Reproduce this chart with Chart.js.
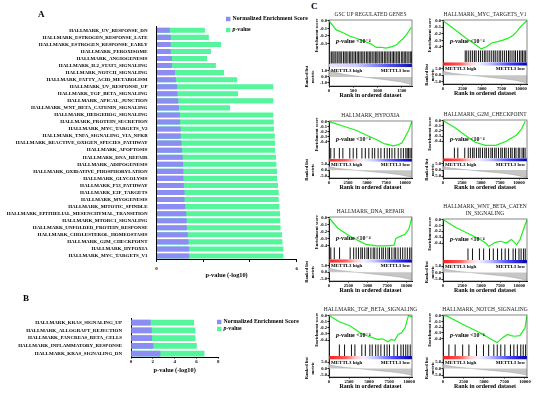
<!DOCTYPE html>
<html lang="en">
<head>
<meta charset="UTF-8">
<title>Hallmark GSEA – METTL3</title>
<script src="https://cdn.jsdelivr.net/npm/chart.js@4.4.1/dist/chart.umd.min.js"></script>
<style>
  body { margin: 0; background: #fff; }
  #wrap { position: relative; width: 550px; height: 397px; overflow: hidden; font-family: 'Liberation Serif', serif; }
  canvas { position: absolute; }
  .panel { position: absolute; font-weight: bold; font-size: 9px; line-height: 9px; }
</style>
</head>
<body>
<div id="wrap">
  <canvas id="chartA" width="310" height="285" style="left:0;top:0"></canvas>
  <canvas id="chartB" width="300" height="80" style="left:0;top:300px"></canvas>
  <div class="panel" style="left:38px;top:10px">A</div>
  <div class="panel" style="left:23px;top:294px">B</div>
  <div class="panel" style="left:311px;top:2px">C</div>
</div>
<script>
// ---- panel A ----
const hallmarkA = [
  'HALLMARK_UV_RESPONSE_DN', 'HALLMARK_ESTROGEN_RESPONSE_LATE', 'HALLMARK_ESTROGEN_RESPONSE_EARLY',
  'HALLMARK_PEROXISOME', 'HALLMARK_ANGIOGENESIS', 'HALLMARK_IL2_STAT5_SIGNALING',
  'HALLMARK_NOTCH_SIGNALING', 'HALLMARK_FATTY_ACID_METABOLISM', 'HALLMARK_UV_RESPONSE_UP',
  'HALLMARK_TGF_BETA_SIGNALING', 'HALLMARK_APICAL_JUNCTION', 'HALLMARK_WNT_BETA_CATENIN_SIGNALING',
  'HALLMARK_HEDGEHOG_SIGNALING', 'HALLMARK_PROTEIN_SECRETION', 'HALLMARK_MYC_TARGETS_V2',
  'HALLMARK_TNFA_SIGNALING_VIA_NFKB', 'HALLMARK_REACTIVE_OXIGEN_SPECIES_PATHWAY', 'HALLMARK_APOPTOSIS',
  'HALLMARK_DNA_REPAIR', 'HALLMARK_ADIPOGENESIS', 'HALLMARK_OXIDATIVE_PHOSPHORYLATION',
  'HALLMARK_GLYCOLYSIS', 'HALLMARK_P53_PATHWAY', 'HALLMARK_E2F_TARGETS',
  'HALLMARK_MYOGENESIS', 'HALLMARK_MITOTIC_SPINDLE', 'HALLMARK_EPITHELIAL_MESENCHYMAL_TRANSITION',
  'HALLMARK_MTORC1_SIGNALING', 'HALLMARK_UNFOLDED_PROTEIN_RESPONSE', 'HALLMARK_CHOLESTEROL_HOMEOSTASIS',
  'HALLMARK_G2M_CHECKPOINT', 'HALLMARK_HYPOXIA', 'HALLMARK_MYC_TARGETS_V1'
];
const nesA = [0.57, 0.61, 0.61, 0.61, 0.66, 0.66, 0.79, 0.83, 0.88, 0.9, 0.93, 0.96, 1.0, 1.01, 1.03, 1.04, 1.07,
  1.09, 1.12, 1.14, 1.15, 1.15, 1.17, 1.2, 1.2, 1.23, 1.27, 1.29, 1.3, 1.34, 1.37, 1.4, 1.4];
const pvalA = [2.07, 2.24, 2.76, 2.33, 2.16, 2.54, 2.89, 3.45, 5.0, 3.49, 5.0, 3.15, 5.0, 5.02, 5.03, 5.06, 5.07,
  5.07, 5.11, 5.13, 5.16, 5.16, 5.2, 5.23, 5.23, 5.26, 5.29, 5.3, 5.31, 5.37, 5.39, 5.43, 5.43];

// ---- panel B ----
const hallmarkB = ['HALLMARK_KRAS_SIGNALING_UP', 'HALLMARK_ALLOGRAFT_REJECTION', 'HALLMARK_PANCREAS_BETA_CELLS',
  'HALLMARK_INFLAMMATORY_RESPONSE', 'HALLMARK_KRAS_SIGNALING_DN'];
const nesB = [1.8, 1.9, 1.93, 2.05, 2.69];
const pvalB = [5.78, 5.9, 5.9, 6.03, 6.73];

// ---- panel C: running enrichment scores [rank, ES] ----
const gscEs = [[0, 0], [150, -0.12], [300, -0.16], [425, -0.2], [600, -0.24], [767, -0.28], [880, -0.31], [973, -0.35],
  [1080, -0.35], [1178, -0.36], [1300, -0.34], [1384, -0.32], [1450, -0.28], [1520, -0.24], [1600, -0.18], [1692, -0.09]];
const mycV1Es = [[0, 0], [1000, -0.09], [2000, -0.18], [3000, -0.27], [4000, -0.35], [4900, -0.43], [5500, -0.4],
  [6240, -0.34], [7000, -0.32], [7600, -0.3], [8300, -0.27], [8960, -0.225], [9400, -0.175], [9900, -0.1], [10300, -0.05], [10770, 0]];
const hypoxiaEs = [[0, 0], [1818, -0.09], [3636, -0.18], [5000, -0.28], [6360, -0.37], [7300, -0.45], [7730, -0.46],
  [8400, -0.49], [9000, -0.47], [9545, -0.43], [10000, -0.31], [10450, -0.18], [10900, 0]];
const g2mEs = [[0, 0], [1500, -0.13], [2860, -0.28], [4230, -0.42], [5590, -0.48], [6950, -0.48], [8320, -0.4],
  [9000, -0.34], [9680, -0.28], [10360, -0.16], [10820, -0.01]];
const dnaRepairEs = [[0, 0], [1140, -0.15], [2500, -0.25], [3860, -0.33], [4770, -0.38], [6140, -0.4], [7500, -0.4],
  [8400, -0.39], [8600, -0.3], [8860, -0.28], [9770, -0.24], [10300, -0.16], [10680, 0]];
const wntEs = [[0, 0], [1680, -0.135], [3500, -0.25], [4860, -0.34], [5600, -0.4], [6000, -0.46], [6680, -0.4],
  [7140, -0.38], [7590, -0.37], [8270, -0.4], [8950, -0.34], [9300, -0.38], [9640, -0.43], [10090, -0.34], [10550, -0.165], [11000, 0]];
const tgfEs = [[0, 0], [1290, -0.1], [2590, -0.165], [3880, -0.28], [4740, -0.33], [6030, -0.39], [6700, -0.38],
  [7330, -0.43], [7760, -0.39], [8190, -0.41], [8620, -0.31], [9050, -0.28], [9480, -0.2], [9910, 0], [10340, -0.02]];
const notchEs = [[0, 0], [500, -0.01], [2400, -0.15], [4520, -0.3], [6200, -0.44], [6620, -0.47], [7300, -0.38],
  [7890, -0.33], [8300, -0.35], [8730, -0.36], [9370, -0.35], [10000, -0.22], [10250, 0]];

// gene-set hit positions in the ranked list
const gscHits = [15, 48, 80, 105, 140, 170, 205, 230, 262, 300, 330, 355, 390, 425, 450, 480, 515, 545, 580, 610, 640,
  675, 700, 735, 770, 800, 830, 860, 890, 925, 955, 985, 1010, 1045, 1075, 1105, 1140, 1170, 1200, 1235, 1265, 1300,
  1330, 1360, 1395, 1425, 1450, 1490, 1520, 1550, 1580, 1610, 1645, 1675, 1700];
const mycV1Hits = [2850, 3050, 3300, 3550, 3800, 4050, 4250, 4550, 4800, 5050, 5300, 5500, 5750, 6000, 6250, 6500,
  6700, 6950, 7200, 7400, 7650, 7900, 8150, 8400, 8600, 8850, 9100, 9300, 9550, 9800, 10000, 10200, 10400, 10600];
const hypoxiaHits = [230, 680, 1360, 1820, 2730, 3180, 3640, 4320, 4770, 5230, 5680, 6000, 6450, 6820, 7270, 7640,
  7950, 8270, 8640, 9090, 9450, 9770, 10090, 10270, 10450, 10640, 10820];
const g2mHits = [1500, 1950, 2860, 3320, 3600, 3900, 4100, 4400, 4700, 4900, 5200, 5500, 5700, 6000, 6300, 6500,
  6800, 7000, 7300, 7600, 7800, 8100, 8300, 8600, 8900, 9100, 9400, 9600, 9900, 10100, 10400, 10600, 10800];
const dnaRepairHits = [230, 680, 1360, 2730, 3180, 3500, 3800, 4100, 4300, 4600, 4900, 5100, 5400, 5700, 5900, 6200,
  6500, 6800, 7000, 7300, 7600, 7800, 8100, 8400, 8600, 8900, 9200, 9500, 9800, 10100, 10400, 10600];
const wntHits = [3270, 3860, 4770, 5320, 6090, 6590, 7140, 7680, 8140, 8590, 9180, 9500, 9950, 10230, 10550, 10770];
const tgfHits = [1290, 1940, 2800, 3230, 4090, 4530, 5090, 5390, 5820, 6120, 6470, 6900, 7240, 7540, 8100, 8530,
  8970, 9270, 9570, 9830, 10130];
const notchHits = [720, 1480, 2400, 3160, 4090, 4940, 5570, 6200, 6620, 7050, 7550, 8230, 8650, 9070, 9490, 9790, 10080];

// ranked list metric
const metricRank = [0, 400, 1200, 2500, 3500, 5000, 6500, 8000, 9300, 10200, 11100];
const metricScore = [3.2, 2.4, 1.5, 0.6, 0, -0.9, -1.8, -2.7, -3.8, -5, -6];
const gscMetricRank = [0, 100, 300, 600, 900, 1200, 1500, 1710];
const gscMetricScore = [1.2, 0.8, 0.45, 0.1, -0.2, -0.5, -0.85, -1.3];

// tick labels
const rankTicks = [0, 2500, 5000, 7500, 10000];
const gscRankTicks = [0, 500, 1000, 1500];
const esTicks = [0, -0.1, -0.2, -0.3, -0.4];
const gscEsTicks = [0, -0.1, -0.2, -0.3];
const metricTicks = [5, 0, -5];
const gscMetricTicks = [1, 0, -1];

const SERIF = "'Liberation Serif', 'DejaVu Serif', serif";
const PURPLE = '#8c8cf5';
const GREEN = '#55f59b';
const ES_GREEN = '#1ef01e';

Chart.defaults.font.family = SERIF;
Chart.defaults.color = '#000';
Chart.defaults.animation = false;
Chart.defaults.plugins.legend.display = false;
Chart.defaults.plugins.tooltip.enabled = false;

// draws a label, with the leading "p" of "p-value" in italics
function drawLabel(ctx, text, x, y, size) {
  if (text.startsWith('p-')) {
    ctx.font = `italic bold ${size}px ${SERIF}`;
    ctx.fillText('p', x, y);
    x += ctx.measureText('p').width;
    text = text.slice(1);
  }
  ctx.font = `bold ${size}px ${SERIF}`;
  ctx.fillText(text, x, y);
}

const fixedTicks = values => s => { s.ticks = values.map(v => ({ value: v })); };

const squareLegend = {
  id: 'squareLegend',
  afterDraw(chart, args, o) {
    const ctx = chart.ctx;
    ctx.save();
    ctx.textBaseline = 'middle';
    ctx.textAlign = 'left';
    chart.data.datasets.forEach((ds, i) => {
      const y = o.y + i * o.gap;
      ctx.fillStyle = ds.backgroundColor;
      ctx.fillRect(o.x, y - 2.2, 4.4, 4.4);
      ctx.fillStyle = '#000';
      drawLabel(ctx, ds.label, o.x + 6.5, y, o.size);
    });
    ctx.restore();
  }
};

function barPanel(id, labels, nes, pval, o) {
  new Chart(document.getElementById(id), {
    type: 'bar',
    data: {
      labels: labels,
      datasets: [
        { label: 'Normalized Enrichment Score', data: nes, backgroundColor: PURPLE, order: 0 },
        { label: 'p-value', data: pval, backgroundColor: GREEN, order: 1 }
      ]
    },
    options: {
      indexAxis: 'y',
      responsive: false,
      datasets: { bar: { grouped: false, categoryPercentage: 0.9, barPercentage: o.barPct } },
      layout: { padding: { top: o.top, right: o.right, left: 0, bottom: 0 } },
      plugins: { squareLegend: o.legend },
      scales: {
        x: {
          min: 0, max: o.xMax,
          ticks: { stepSize: 2, autoSkip: false, maxRotation: 0, padding: o.tickPad, font: { size: 5, weight: 'bold' },
            callback: o.tickCb },
          grid: { drawOnChartArea: false, tickLength: o.tickLen, color: '#000' },
          border: { color: '#000' },
          title: { display: true, text: 'p-value (-log10)', font: { size: 6.3, weight: 'bold' }, padding: { top: 0, bottom: 6.3 } },
          afterFit: s => { s.height = o.xh; }
        },
        y: {
          ticks: { autoSkip: false, padding: 1, font: { size: 5, weight: 'bold' } },
          grid: { display: false },
          border: { color: '#000' },
          afterFit: s => { s.width = o.yw; }
        }
      }
    },
    plugins: [squareLegend]
  });
}

barPanel('chartA', hallmarkA, nesA, pvalA, {
  top: 26.8, right: 13.3, xMax: 6, xh: 25.5, yw: 156.5, barPct: 0.8, tickLen: 2.5, tickPad: 4,
  tickCb: v => (v === 0 || v === 6) ? String(v) : '',
  legend: { x: 226, y: 19, gap: 11, size: 5.8 }
});
barPanel('chartB', hallmarkB, nesB, pvalB, {
  top: 18.7, right: 81.7, xMax: 8, xh: 22.5, yw: 131, barPct: 0.82, tickLen: 1, tickPad: 0.5,
  tickCb: v => String(v),
  legend: { x: 217, y: 22, gap: 7, size: 5.8 }
});

// ---- GSEA plots ----
const gseaDecor = {
  id: 'gseaDecor',
  afterDraw(chart, args, o) {
    const { ctx, chartArea: a, scales } = chart;
    ctx.save();
    ctx.strokeStyle = '#555';
    ctx.lineWidth = 0.7;
    ctx.strokeRect(a.left, a.top, a.right - a.left, a.bottom - a.top);

    ctx.fillStyle = '#222';
    ctx.textAlign = 'center';
    ctx.textBaseline = 'middle';
    ctx.font = `5.5px ${SERIF}`;
    const cx = (a.left + a.right) / 2;
    o.title.forEach((line, i) => ctx.fillText(line, cx, a.top - 5.5 - (o.title.length - 1 - i) * 7));

    const es = scales.es;
    ctx.fillStyle = '#000';
    ctx.textAlign = 'left';
    drawLabel(ctx, 'p-value <10\u207B\u2074', a.left + 7, es.top + (es.bottom - es.top) * 0.7, 6);

    const rank = scales.rank;
    ctx.font = `bold 5px ${SERIF}`;
    ctx.textBaseline = 'top';
    ctx.fillText('METTL3 high', a.left + 2, rank.top + 0.8);
    ctx.textAlign = 'right';
    ctx.fillText('METTL3 low', a.right - 2, rank.top + 0.8);
    ctx.restore();
  }
};

const hallmarkStops = [[0, '#ff1c1c'], [0.2, '#ff5a5a'], [0.32, '#ffcccc'], [0.42, '#f6f2ff'], [0.55, '#c4c4ff'],
  [0.78, '#4848ff'], [1, '#0000b4']];
const gscStops = [[0, '#eee6ff'], [0.35, '#c8c8ff'], [0.7, '#5a5af0'], [1, '#1010b0']];

function gseaChart(c) {
  const col0 = c.col === 0;
  const left = col0 ? 303 : 424;
  const width = col0 ? 117 : 116;
  const boxRight = col0 ? 412 : 527;
  const yw = col0 ? 26 : 19;
  const padTop = c.title.length > 1 ? 17 : 10;
  const xh = 13;
  const cv = document.createElement('canvas');
  cv.width = width;
  cv.height = c.bottom - c.top + padTop + xh;
  cv.style.left = left + 'px';
  cv.style.top = (c.top - padTop) + 'px';
  document.getElementById('wrap').appendChild(cv);

  const tickFont = { size: 4.6, weight: 'bold' };
  const titleFont = { size: 4.5, weight: 'bold' };
  const fixW = s => { s.width = yw; };
  const quiet = { display: false };

  new Chart(cv, {
    type: 'scatter',
    data: {
      datasets: [
        { type: 'line', data: c.es.map(p => ({ x: p[0], y: p[1] })), yAxisID: 'es', borderColor: ES_GREEN,
          borderWidth: 1.2, pointRadius: 0, tension: 0, fill: false, order: 1 },
        { data: c.hits.map(x => ({ x: x, y: 0.5 })), yAxisID: 'hit', pointStyle: 'line', pointRotation: 90,
          pointRadius: ctx => { const s = ctx.chart.scales.hit; return s ? (s.bottom - s.top) / 2 : 5; },
          pointBorderColor: '#111', pointBorderWidth: 1, order: 2 },
        { type: 'line', data: [{ x: 0, y: 1 }, { x: c.xMax, y: 1 }], yAxisID: 'cbar', fill: 'start', borderWidth: 0,
          pointRadius: 0, order: 3,
          backgroundColor: ctx => {
            const area = ctx.chart.chartArea;
            if (!area) return 'rgba(0,0,0,0)';
            const g = ctx.chart.ctx.createLinearGradient(area.left, 0, area.right, 0);
            c.stops.forEach(s => g.addColorStop(s[0], s[1]));
            return g;
          } },
        { type: 'line', data: c.metricX.map((x, i) => ({ x: x, y: c.metricY[i] })), yAxisID: 'rank', fill: 'origin',
          backgroundColor: '#c6c6c6', borderColor: '#a0a0a0', borderWidth: 0.5, pointRadius: 0, order: 4 }
      ]
    },
    options: {
      responsive: false,
      layout: { padding: { top: padTop, right: left + width - boxRight, bottom: 0, left: 0 } },
      plugins: { gseaDecor: { title: c.title } },
      scales: {
        x: {
          type: 'linear', min: 0, max: c.xMax,
          ticks: { autoSkip: false, maxRotation: 0, padding: 0.5, font: tickFont, callback: v => String(v) },
          afterBuildTicks: fixedTicks(c.xTicks),
          grid: { drawOnChartArea: false, tickLength: 1.5, color: '#000' },
          border: { color: '#000' },
          title: { display: true, text: 'Rank in ordered dataset', font: { size: 6, weight: 'bold' }, padding: 0 },
          afterFit: s => { s.height = xh; }
        },
        es: {
          type: 'linear', position: 'left', stack: 'gsea', stackWeight: 30, weight: 4,
          min: c.esMin, max: 0.01,
          ticks: { autoSkip: false, padding: 0.5, font: tickFont, callback: v => v.toFixed(1) },
          afterBuildTicks: fixedTicks(c.esTicks),
          grid: { drawOnChartArea: false, tickLength: 1.5, color: '#000' },
          border: { color: '#000' },
          title: { display: true, text: 'Enrichment score', font: titleFont, padding: { top: col0 ? 11 : 3.3, bottom: 0 } },
          afterFit: fixW
        },
        hit: {
          type: 'linear', position: 'left', stack: 'gsea', stackWeight: 12, weight: 3, min: 0, max: 1,
          ticks: quiet, grid: quiet, border: { color: '#000' }, afterFit: fixW
        },
        cbar: {
          type: 'linear', position: 'left', stack: 'gsea', stackWeight: 3.5, weight: 2, min: 0, max: 1,
          ticks: quiet, grid: quiet, border: { color: '#000' }, afterFit: fixW
        },
        rank: {
          type: 'linear', position: 'left', stack: 'gsea', stackWeight: 18, weight: 1,
          min: c.rankMin, max: c.rankMax,
          ticks: { autoSkip: false, padding: 0.5, font: tickFont, callback: v => v.toFixed(1) },
          afterBuildTicks: fixedTicks(c.rankTicks),
          grid: { drawOnChartArea: false, tickLength: 1.5, color: '#000' },
          border: { color: '#000' },
          title: { display: true, text: ['Ranked list', 'metric'], font: titleFont, padding: { top: col0 ? 1.3 : 0.3, bottom: 0 } },
          afterFit: fixW
        }
      }
    },
    plugins: [gseaDecor]
  });
}

const hallmarkBase = { metricX: metricRank, metricY: metricScore, rankMin: -6.5, rankMax: 7, rankTicks: metricTicks,
  stops: hallmarkStops, xTicks: rankTicks, esTicks: esTicks };

gseaChart({ col: 0, top: 20, bottom: 86, title: ['GSC UP REGULATED GENES'], es: gscEs, hits: gscHits,
  xMax: 1710, xTicks: gscRankTicks, esMin: -0.4, esTicks: gscEsTicks, metricX: gscMetricRank, metricY: gscMetricScore,
  rankMin: -1.5, rankMax: 1.6, rankTicks: gscMetricTicks, stops: gscStops });
gseaChart(Object.assign({}, hallmarkBase, { col: 1, top: 20, bottom: 84, title: ['HALLMARK_MYC_TARGETS_V1'],
  es: mycV1Es, hits: mycV1Hits, xMax: 10770, esMin: -0.45 }));
gseaChart(Object.assign({}, hallmarkBase, { col: 0, top: 121, bottom: 178, title: ['HALLMARK_HYPOXIA'],
  es: hypoxiaEs, hits: hypoxiaHits, xMax: 10900, esMin: -0.53 }));
gseaChart(Object.assign({}, hallmarkBase, { col: 1, top: 120, bottom: 178, title: ['HALLMARK_G2M_CHECKPOINT'],
  es: g2mEs, hits: g2mHits, xMax: 11050, esMin: -0.52 }));
gseaChart(Object.assign({}, hallmarkBase, { col: 0, top: 217, bottom: 281, title: ['HALLMARK_DNA_REPAIR'],
  es: dnaRepairEs, hits: dnaRepairHits, xMax: 10700, esMin: -0.42 }));
gseaChart(Object.assign({}, hallmarkBase, { col: 1, top: 219, bottom: 281, title: ['HALLMARK_WNT_BETA_CATEN', 'IN_SIGNALING'],
  es: wntEs, hits: wntHits, xMax: 11000, esMin: -0.49 }));
gseaChart(Object.assign({}, hallmarkBase, { col: 0, top: 315, bottom: 377, title: ['HALLMARK_TGF_BETA_SIGNALING'],
  es: tgfEs, hits: tgfHits, xMax: 10350, esMin: -0.47 }));
gseaChart(Object.assign({}, hallmarkBase, { col: 1, top: 315, bottom: 377, title: ['HALLMARK_NOTCH_SIGNALING'],
  es: notchEs, hits: notchHits, xMax: 10250, esMin: -0.5 }));
</script>
</body>
</html>
